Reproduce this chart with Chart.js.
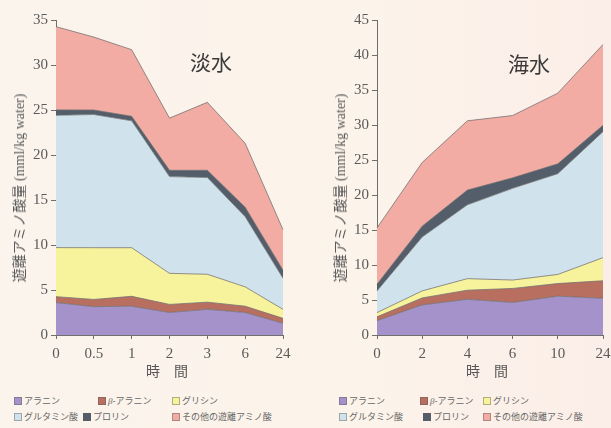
<!DOCTYPE html>
<html lang="ja">
<head>
<meta charset="utf-8">
<script src="https://cdn.jsdelivr.net/npm/chart.js@4.4.1/dist/chart.umd.min.js"></script>
<style>
  html, body { margin: 0; padding: 0; }
  body {
    width: 611px; height: 428px; overflow: hidden; position: relative;
    background: linear-gradient(90deg, #fbf4ec 0%, #fcf3ea 60%, #fbeee8 100%);
    font-family: "Noto Sans CJK JP", sans-serif;
  }
  .cv { position: absolute; top: 0; }
  .ttl { position: absolute; font-size: 21px; color: #3a3a3a; transform: translate(-50%, -50%); white-space: nowrap; }
  .ylab { position: absolute; font-size: 14px; color: #5a5a5a; white-space: nowrap;
          transform: translate(-50%, -50%) rotate(-90deg);
          font-family: "Liberation Serif", "Noto Sans CJK JP", serif; }
  .xlab { position: absolute; font-size: 14px; color: #555; transform: translate(-50%, -50%); white-space: nowrap; }
  .leg { position: absolute; font-size: 9px; color: #666; white-space: nowrap; line-height: 12px; }
  .leg i { display: inline-block; width: 8px; height: 8px; margin-right: 2px; vertical-align: -1px;
           border: 1px solid rgba(90,90,90,0.45); box-sizing: border-box; }
  .leg b { font-weight: normal; font-family: "Liberation Serif", serif; font-style: italic; }
</style>
</head>
<body>
<div class="cv" style="left:0;width:300px;height:372px"><canvas id="fresh"></canvas></div>
<div class="cv" style="left:300px;width:311px;height:372px"><canvas id="sea"></canvas></div>

<div class="ttl" style="left:211px;top:61px">淡水</div>
<div class="ttl" style="left:529px;top:63px">海水</div>
<div class="ylab" style="left:18px;top:188px">遊離アミノ酸量 (mml/kg water)</div>
<div class="ylab" style="left:339px;top:188px">遊離アミノ酸量 (mml/kg water)</div>
<div class="xlab" style="left:167px;top:370px">時　間</div>
<div class="xlab" style="left:487px;top:370px">時　間</div>

<div id="legFresh"></div>
<div id="legSea"></div>

<script>
// Time points (hours)
const freshTimes = ['0', '0.5', '1', '2', '3', '6', '24'];
const seaTimes = ['0', '2', '4', '6', '10', '24'];

// Free amino acids in freshwater (mml/kg water), stacked bottom to top
const freshAlanine = [3.6, 3.15, 3.2, 2.5, 2.85, 2.5, 1.3];
const freshBetaAlanine = [0.66, 0.8, 1.1, 0.9, 0.8, 0.7, 0.55];
const freshGlycine = [5.45, 5.75, 5.4, 3.45, 3.1, 2.15, 1.0];
const freshGlutamate = [14.7, 14.8, 14.1, 10.75, 10.75, 7.8, 3.45];
const freshProline = [0.6, 0.5, 0.5, 0.7, 0.8, 1.05, 0.9];
const freshOther = [9.25, 8.1, 7.4, 5.8, 7.55, 7.1, 4.5];

// Free amino acids in seawater (mml/kg water)
const seaAlanine = [2.05, 4.3, 5.1, 4.65, 5.55, 5.25];
const seaBetaAlanine = [0.55, 1.0, 1.3, 2.0, 1.8, 2.5];
const seaGlycine = [0.6, 1.0, 1.65, 1.2, 1.3, 3.3];
const seaGlutamate = [3.1, 7.7, 10.55, 13.1, 14.4, 18.0];
const seaProline = [0.95, 1.55, 2.1, 1.5, 1.4, 0.9];
const seaOther = [8.05, 9.1, 9.9, 8.9, 10.1, 11.55];

const seriesNames = ['アラニン', 'β-アラニン', 'グリシン', 'グルタミン酸', 'プロリン', 'その他の遊離アミノ酸'];
const seriesColors = ['#a592cb', '#b96f5f', '#f7f39c', '#d0e2ec', '#545d6a', '#f2aca3'];

const tickFont = { family: '"Liberation Serif", "DejaVu Serif", serif', size: 15 };

function makeDatasets(list) {
  return list.map((data, i) => ({
    label: seriesNames[i],
    data: data,
    backgroundColor: seriesColors[i],
    borderColor: 'rgba(110,110,110,0.75)',
    borderWidth: 1,
    fill: i === 0 ? 'origin' : '-1',
    pointRadius: 0,
    tension: 0
  }));
}

function makeChart(id, labels, datasets, yMax, padLeft, padRight) {
  return new Chart(document.getElementById(id), {
    type: 'line',
    data: { labels: labels, datasets: makeDatasets(datasets) },
    options: {
      responsive: true,
      maintainAspectRatio: false,
      animation: false,
      layout: { padding: { left: 0, right: padRight, top: 20, bottom: 0 } },
      plugins: { legend: { display: false }, tooltip: { enabled: false } },
      scales: {
        x: {
          offset: false,
          border: { color: '#6e6e6e', width: 1 },
          grid: { display: true, drawOnChartArea: false, drawTicks: true, tickLength: 4, color: '#6e6e6e' },
          ticks: { color: '#5a5a5a', font: tickFont, padding: 6, maxRotation: 0, autoSkip: false },
          afterFit: s => { s.height = 37; s.paddingLeft = 0; s.paddingRight = 0; }
        },
        y: {
          stacked: true,
          min: 0, max: yMax,
          border: { color: '#6e6e6e', width: 1 },
          grid: { display: true, drawOnChartArea: false, drawTicks: true, tickLength: 5, color: '#6e6e6e' },
          ticks: { stepSize: 5, color: '#5a5a5a', font: tickFont, padding: 3 },
          afterFit: s => { s.width = padLeft; s.paddingTop = 0; s.paddingBottom = 0; }
        }
      }
    }
  });
}

makeChart('fresh', freshTimes,
  [freshAlanine, freshBetaAlanine, freshGlycine, freshGlutamate, freshProline, freshOther], 35, 56, 17);
makeChart('sea', seaTimes,
  [seaAlanine, seaBetaAlanine, seaGlycine, seaGlutamate, seaProline, seaOther], 45, 77, 8);

// Legend blocks under each chart
function buildLegend(id, x0, cols) {
  const host = document.getElementById(id);
  const rows = [[0, 1, 2], [3, 4, 5]];
  const ys = [395, 411];
  rows.forEach((row, r) => {
    row.forEach((idx, c) => {
      const d = document.createElement('div');
      d.className = 'leg';
      d.style.left = (x0 + cols[r][c]) + 'px';
      d.style.top = ys[r] + 'px';
      const name = seriesNames[idx].replace('β', '<b>β</b>');
      d.innerHTML = '<i style="background:' + seriesColors[idx] + '"></i>' + name;
      host.appendChild(d);
    });
  });
}
buildLegend('legFresh', 14, [[0, 84, 158], [0, 69, 158]]);
buildLegend('legSea', 339, [[0, 81, 144], [0, 84, 144]]);
</script>
</body>
</html>
